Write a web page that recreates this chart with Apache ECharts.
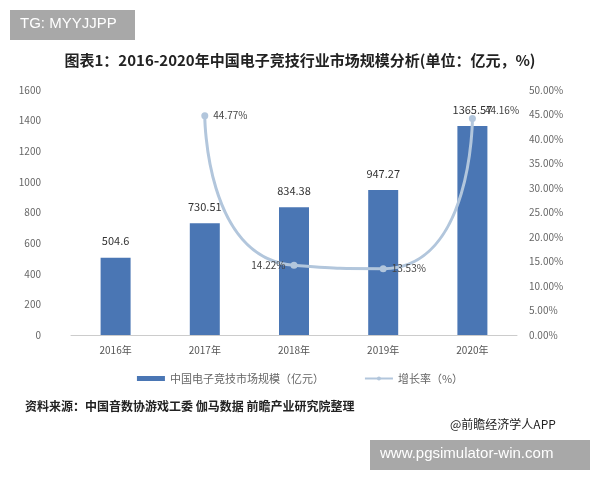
<!DOCTYPE html><html><head><meta charset="utf-8"><script src="https://cdn.jsdelivr.net/npm/echarts@6/dist/echarts.min.js"></script></head><body style="margin:0"><div id="c" style="width:600px;height:480px"></div><script>
const categories=['2016年','2017年','2018年','2019年','2020年'];
const scale=[504.6,730.51,834.38,947.27,1365.57];
const growth=[null,44.77,14.22,13.53,44.16];
const F='"Noto Sans CJK SC"';
const c=echarts.init(document.getElementById('c'));
c.setOption({
backgroundColor:'#fff',
textStyle:{fontFamily:F},
title:{text:'图表1：2016-2020年中国电子竞技行业市场规模分析(单位：亿元，%)',left:'center',top:48,textStyle:{fontSize:15,fontWeight:'bold',color:'#222',fontFamily:F}},
graphic:[
{type:'rect',shape:{x:10,y:10,width:125,height:30},style:{fill:'#a8a8a8'}},
{type:'text',left:20,top:16,style:{text:'TG: MYYJJPP',fill:'#fff',fontSize:15,fontFamily:'Liberation Sans'}},
{type:'text',left:25,top:400,style:{text:'资料来源：中国音数协游戏工委 伽马数据 前瞻产业研究院整理',fill:'#222',fontSize:12,fontWeight:'bold',fontFamily:F}},
{type:'text',left:450,top:418,style:{text:'@前瞻经济学人APP',fill:'#222',fontSize:12,fontFamily:F}},
{type:'rect',shape:{x:370,y:440,width:220,height:30},style:{fill:'#a8a8a8'}},
{type:'text',left:380,top:446,style:{text:'www.pgsimulator-win.com',fill:'#fff',fontSize:15,fontFamily:'Liberation Sans'}}
],
legend:{top:368,left:'center',itemGap:40,textStyle:{color:'#666',fontSize:11},data:[{name:'中国电子竞技市场规模（亿元）',icon:'rect',itemStyle:{color:'#4a76b4'}},{name:'增长率（%）'}],itemWidth:28,itemHeight:5},
grid:{left:71,right:83,top:90,bottom:145},
xAxis:{type:'category',data:categories,axisTick:{show:false},axisLine:{lineStyle:{color:'#ccc'}},axisLabel:{color:'#555',fontSize:10,margin:10}},
yAxis:[{type:'value',min:0,max:1600,interval:200,splitLine:{show:false},axisLabel:{color:'#666',fontSize:10,margin:30,formatter:v=>String(v)}},
{type:'value',min:0,max:50,interval:5,splitLine:{show:false},axisLabel:{color:'#666',fontSize:10,formatter:v=>v.toFixed(2)+'%',margin:12}}],
series:[
{name:'中国电子竞技市场规模（亿元）',type:'bar',data:scale,barWidth:30,itemStyle:{color:'#4a76b4'},label:{show:true,position:'top',color:'#333',fontSize:11,offset:[0,-6]}},
{name:'增长率（%）',type:'line',yAxisIndex:1,smooth:0.8,symbol:'circle',symbolSize:7,lineStyle:{width:3,color:'#b2c6dc'},itemStyle:{color:'#b2c6dc'},label:{show:true,position:'right',color:'#444',fontSize:10,formatter:p=>p.value.toFixed(2)+'%'},
 data:[null,{value:growth[1],label:{position:'right'}},{value:growth[2],label:{position:'left'}},{value:growth[3],label:{position:'right'}},{value:growth[4],label:{position:'right',offset:[4,-8]}}]}
]});
</script></body></html>
